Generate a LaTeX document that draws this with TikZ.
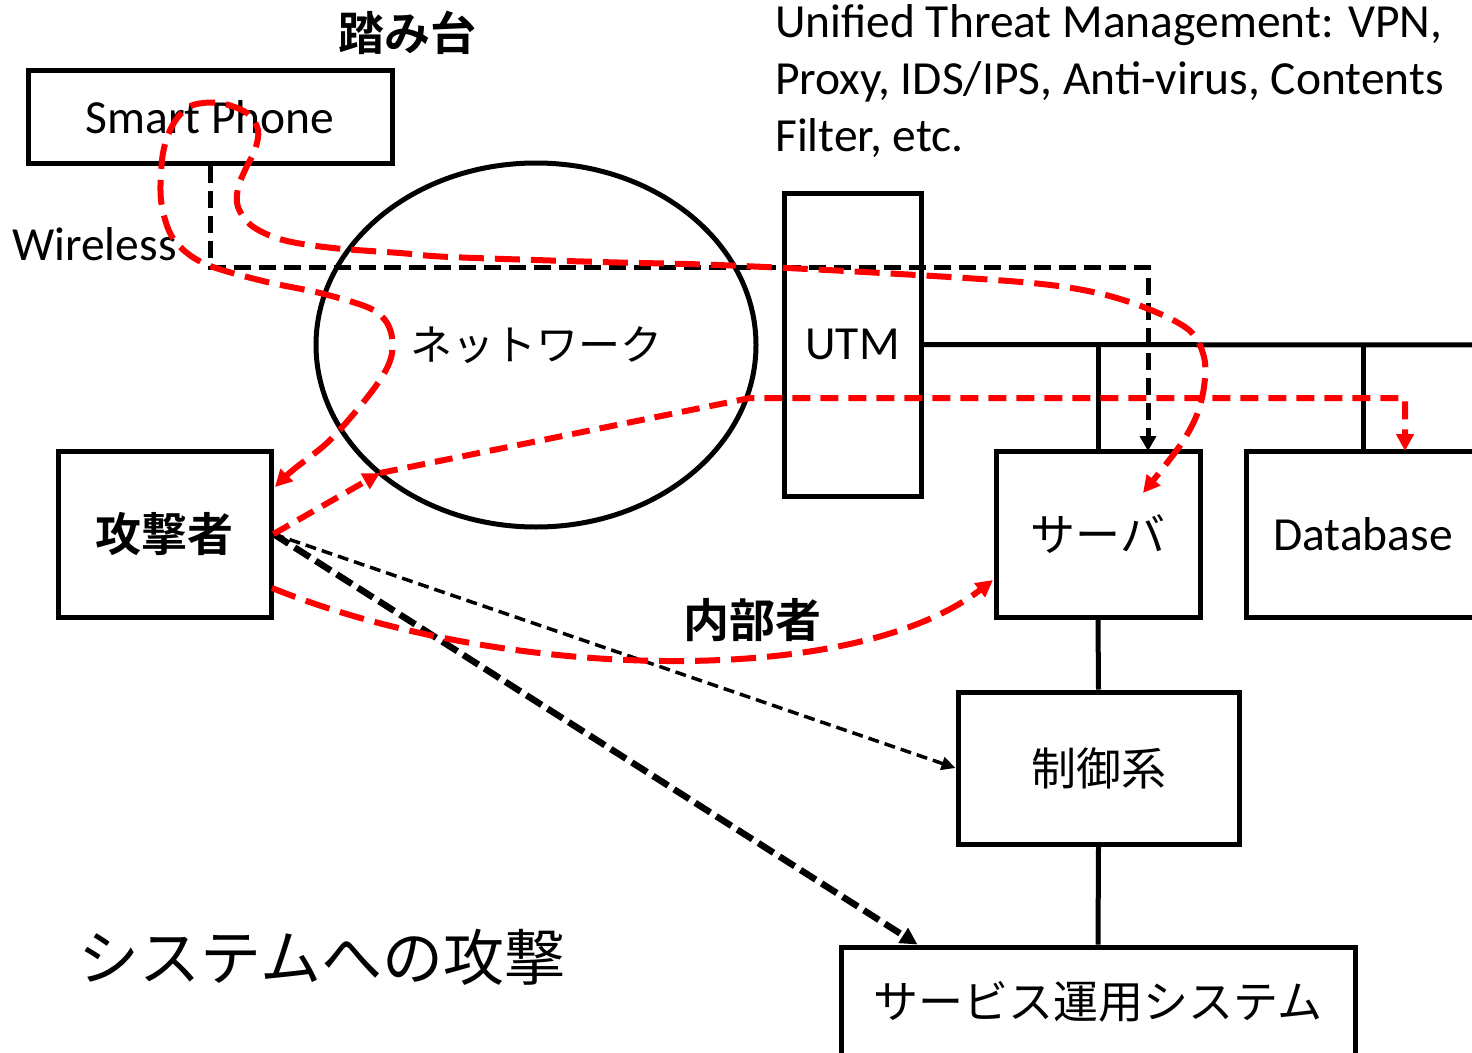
\documentclass[tikz,border=0pt]{standalone}
\usepackage{fontspec}
\setmainfont{Carlito}
\newfontfamily\jp{Noto Sans CJK JP}[BoldFont={Noto Sans CJK JP Bold}]
\usetikzlibrary{arrows.meta,shapes.geometric,calc}

\tikzset{
  box/.style={draw, line width=5pt, inner sep=0pt},
  lat/.style={font=\fontsize{47.5}{57}\selectfont, inner sep=0pt},
  jpn/.style={font=\jp\fontsize{45}{54}\selectfont, inner sep=0pt},
  jpbold/.style={font=\jp\bfseries\fontsize{46}{54}\selectfont, inner sep=0pt},
  wire/.style={draw=black, line width=5pt},
  blkdash/.style={draw=black, line width=5pt, dash pattern=on 17pt off 8pt},
  thindash/.style={draw=black, line width=3.5pt, dash pattern=on 11pt off 6pt},
  thickdash/.style={draw=black, line width=6.5pt, dash pattern=on 18pt off 7pt},
  reddash/.style={draw=red, line width=6pt, dash pattern=on 25pt off 11pt},
  redshort/.style={draw=red, line width=6pt, dash pattern=on 18pt off 10pt},
  tip/.style={-{Triangle[length=15pt,width=16pt]}},
  redtip/.style={-{Triangle[length=17pt,width=17pt]}},
}

\begin{document}
\begin{tikzpicture}[x=1pt, y=-1pt]
\useasboundingbox (0,0) rectangle (1472,1052);

% ---- nodes ----
\node[box, lat, minimum width=364pt, minimum height=93pt] (sp) at (210,117) {Smart Phone};
\node[jpbold] (fumidai) at (407,33) {踏み台};
\node[lat, anchor=base west] (wl) at (12,260) {Wireless};

\node[draw, line width=5pt, ellipse, minimum width=440pt, minimum height=364pt,
      inner sep=0pt, font=\jp\fontsize{42}{50}\selectfont] (net) at (536,345) {ネットワーク};

\node[box, lat, minimum width=137pt, minimum height=303pt] (utm) at (852.5,344.5) {UTM};

\node[lat, anchor=base west] (note1) at (775,37) {Unified Threat Management: VPN,};
\node[lat, anchor=base west] (note2) at (775,94) {Proxy, IDS/IPS, Anti-virus, Contents};
\node[lat, anchor=base west] (note3) at (775,151) {Filter, etc.};

\node[box, jpbold, minimum width=213pt, minimum height=166pt] (atk) at (164.5,534) {攻撃者};
\node[box, jpn, minimum width=204pt, minimum height=166pt] (srv) at (1098,534) {サーバ};
\node[box, lat, minimum width=234pt, minimum height=166pt] (db) at (1363,534) {Database};
\node[box, jpn, minimum width=281pt, minimum height=152pt] (ctl) at (1098.5,768) {制御系};
\node[box, jpn, minimum width=514pt, minimum height=110pt] (ops) at (1098,1002) {サービス運用システム};

\node[jpbold] (insider) at (752,620) {内部者};
\node[font=\jp\fontsize{61}{70}\selectfont, inner sep=0pt] (title) at (322,957) {システムへの攻撃};

% ---- backbone wiring ----
\coordinate (busend) at (1480,345);
\draw[wire] (utm.east) -- (busend);
\draw[wire] (srv.north) -- (srv.north |- utm.east);
\draw[wire] (db.north) -- (db.north |- utm.east);
\draw[wire] (srv.south) -- (ctl.north);
\draw[wire] (ctl.south) -- (ops.north);

% ---- wireless path from the phone to the server ----
\coordinate (wbend) at (210,267);
\coordinate (srvin) at (1148,451);
\draw[blkdash, tip] (sp.south) -- (wbend) -| (srvin);

% ---- direct attacks ----
\coordinate (opsin) at ($(ops.north west)+(79,0)$);
\draw[thindash, -{Triangle[length=14pt,width=13pt]}] (atk.east) -- (ctl.west);
\draw[thickdash, -{Triangle[length=17pt,width=17pt]}] (atk.east) -- (opsin);

% ---- attack through the network to the database ----
\coordinate (netin) at (380,473);
\coordinate (netout) at (750,398);
\coordinate (dbin) at (1405,451);
\draw[redshort, redtip] (atk.east) -- (netin);
\draw[redshort, redtip] (netin) -- (netout) -- (netout -| dbin) -- (dbin);

% ---- insider route to the server ----
\coordinate (insstart) at (272,588);
\coordinate (srvleft) at (993,580);
\draw[reddash, redtip] (insstart) .. controls (500,680) and (850,690) .. (srvleft);

% ---- stepping-stone route via the smart phone ----
\coordinate (atkin) at (275,487);
\coordinate (srvtop) at (1143,493);
\draw[reddash, {Triangle[length=17pt,width=17pt]}-{Triangle[length=17pt,width=17pt]}]
  plot[smooth, tension=0.55] coordinates {
  (275,487) (293,470) (327,443) (357,410) (380,380) (391,358) (392,337)
  (385,320) (367,307) (320,293) (267,282) (213,267) (187,253) (170,233)
  (161,200) (162,160) (168,135) (178,117) (193,105) (220,103) (247,113)
  (258,130) (255,150) (246,168) (238,188) (238,207) (252,226) (283,240)
  (333,248) (400,253) (450,257) (600,262) (718,265) (864,272) (1021,282)
  (1093,292) (1146,308) (1189,330) (1204,357) (1204,387) (1196,417)
  (1179,447) (1143,493)};
\end{tikzpicture}
\end{document}
